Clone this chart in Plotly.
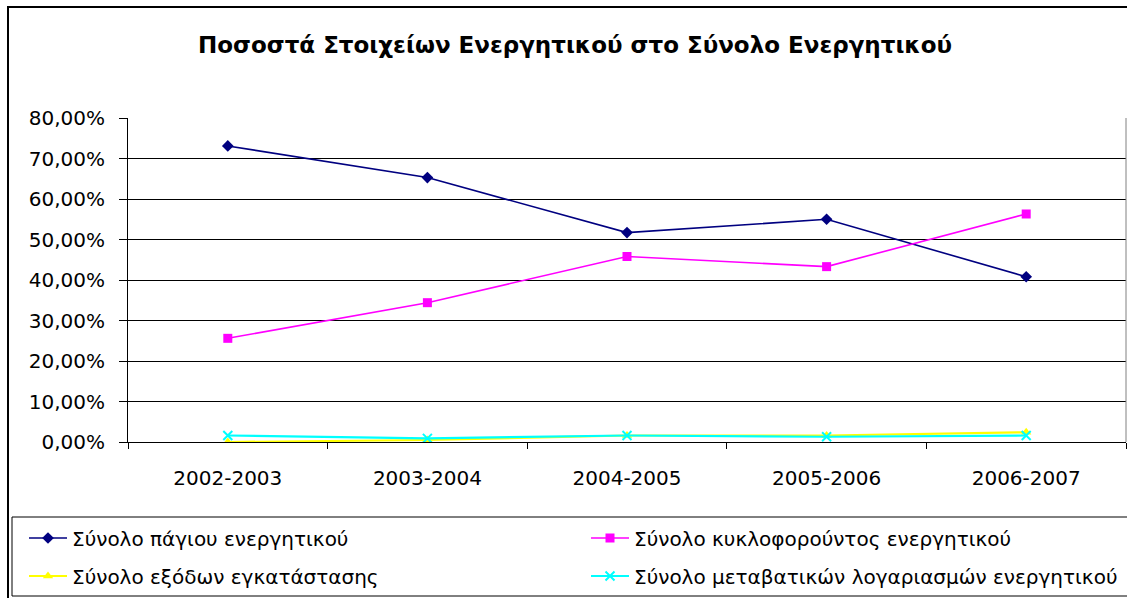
import plotly.graph_objects as go

years = ["2002-2003", "2003-2004", "2004-2005", "2005-2006", "2006-2007"]

pagio = [0.731, 0.653, 0.517, 0.550, 0.408]
kykloforoun = [0.256, 0.344, 0.458, 0.433, 0.563]
exoda = [0.000, 0.005, 0.016, 0.016, 0.024]
metavatikoi = [0.016, 0.009, 0.016, 0.013, 0.016]

series = [
    ("Σύνολο πάγιου ενεργητικού", pagio, "#000080", "diamond", "legend"),
    ("Σύνολο κυκλοφορούντος ενεργητικού", kykloforoun, "#FF00FF", "square", "legend2"),
    ("Σύνολο εξόδων εγκατάστασης", exoda, "#FFFF00", "triangle-up", "legend3"),
    ("Σύνολο μεταβατικών λογαριασμών ενεργητικού", metavatikoi, "#00FFFF", "x-thin-open", "legend4"),
]

W, H = 1127, 598
L, R, T, B = 128, 1, 118, 156
pw = W - L - R
ph = H - T - B


def px(x):
    return (x - L) / pw


def py(y):
    return (H - B - y) / ph


fig = go.Figure()
for name, vals, color, sym, leg in series:
    marker = dict(symbol=sym, size=9, color=color)
    if sym == "x-thin-open":
        marker["line"] = dict(color=color, width=2)
        marker["size"] = 9
    fig.add_trace(
        go.Scatter(
            x=years,
            y=vals,
            name=name,
            mode="lines+markers",
            line=dict(color=color, width=1.6 if sym in ("diamond", "square") else 2.2),
            marker=marker,
            legend=leg,
        )
    )

font = "DejaVu Sans, Arial, sans-serif"


def legend_at(x, y):
    return dict(
        orientation="h",
        xref="container",
        yref="container",
        x=x / W,
        y=1 - y / H,
        xanchor="left",
        yanchor="middle",
        itemwidth=38,
        font=dict(size=20),
        bgcolor="rgba(0,0,0,0)",
    )


fig.update_layout(
    width=W,
    height=H,
    margin=dict(l=L, r=R, t=T, b=B, autoexpand=False),
    paper_bgcolor="white",
    plot_bgcolor="white",
    separators=",.",
    font=dict(family=font, size=20, color="black"),
    title=dict(
        text="<b>Ποσοστά Στοιχείων Ενεργητικού στο Σύνολο Ενεργητικού</b>",
        x=575 / W,
        xanchor="center",
        y=1 - 45 / H,
        yanchor="middle",
        font=dict(size=23, family=font),
    ),
    xaxis=dict(
        type="category",
        showgrid=False,
        showline=True,
        linecolor="black",
        linewidth=1,
        ticks="outside",
        tickson="boundaries",
        ticklen=6,
        tickcolor="black",
        ticklabelstandoff=18,
        tickfont=dict(size=20),
        range=[-0.5, 4.5],
    ),
    yaxis=dict(
        range=[0, 0.8],
        dtick=0.1,
        tickformat=".2%",
        showgrid=True,
        gridcolor="black",
        gridwidth=1,
        showline=True,
        linecolor="black",
        linewidth=1,
        ticks="outside",
        ticklen=8,
        tickcolor="black",
        ticklabelstandoff=10,
        zeroline=False,
        tickfont=dict(size=20),
    ),
    legend=legend_at(24, 538),
    legend2=legend_at(586, 538),
    legend3=legend_at(24, 576),
    legend4=legend_at(586, 576),
    showlegend=True,
)

# chart frame and legend box
fig.add_shape(
    type="rect", xref="paper", yref="paper",
    x0=px(8), x1=px(1140), y0=py(610), y1=py(7),
    line=dict(color="black", width=2), layer="below",
)
fig.add_shape(
    type="rect", xref="paper", yref="paper",
    x0=px(12), x1=px(1140), y0=py(596), y1=py(517),
    line=dict(color="black", width=1), layer="below",
)
# right edge of plot area
fig.add_shape(
    type="line", xref="paper", yref="paper",
    x0=1, x1=1, y0=0, y1=1,
    line=dict(color="#808080", width=1),
)

fig.write_html(
    "out.html",
    config={"displayModeBar": False},
    post_script="document.body.style.margin='0px';",
)
